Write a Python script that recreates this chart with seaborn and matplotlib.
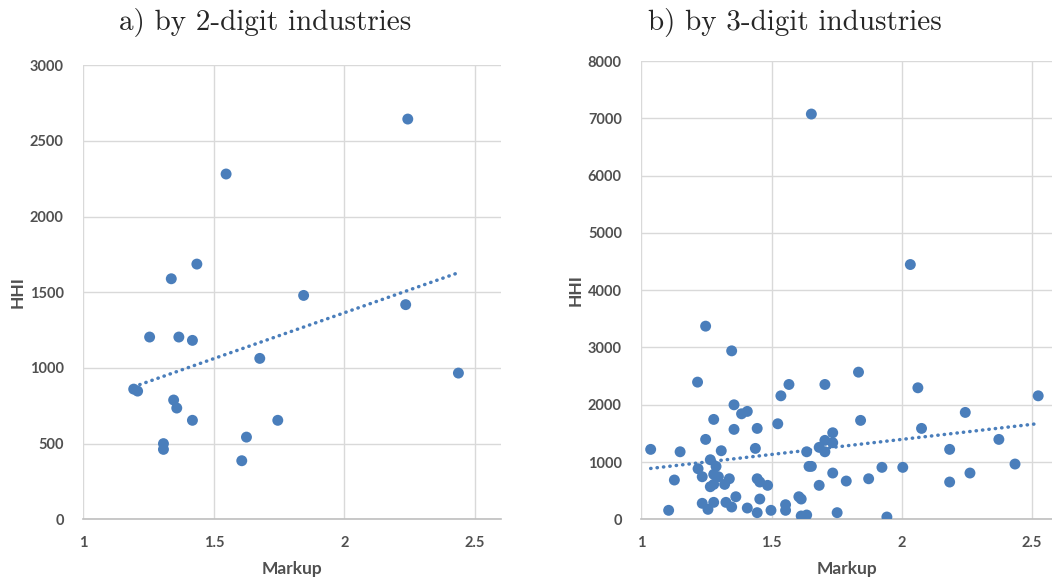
import matplotlib
matplotlib.use("Agg")
import matplotlib.pyplot as plt
import numpy as np
import pandas as pd
import seaborn as sns

# Panel a) 2-digit industries
markup_2d = [2.243, 1.547, 1.435, 1.337, 1.844, 2.235, 1.254, 1.366, 1.418, 1.676,
             2.437, 1.193, 1.208, 1.346, 1.358, 1.418, 1.745, 1.625, 1.307, 1.307,
             1.607]
hhi_2d = [2644, 2281, 1686, 1589, 1479, 1418, 1204, 1204, 1182, 1063,
          966, 860, 847, 788, 735, 654, 654, 543, 500, 462,
          387]

# Panel b) 3-digit industries
markup_3d = [1.653, 1.247, 1.347, 1.216, 1.567, 1.705, 1.536, 1.356, 1.385, 1.407,
             1.278, 1.524, 1.445, 1.356, 1.735, 1.705, 1.735, 1.683, 1.705, 1.036,
             1.149, 1.247, 1.307, 1.438, 1.635, 1.265, 1.287, 1.218, 1.644, 1.653,
             1.234, 1.278, 1.296, 1.265, 1.278, 1.320, 1.338, 1.127, 1.445, 1.455,
             1.485, 1.735, 1.683, 1.363, 1.605, 1.614, 1.234, 1.278, 1.256, 1.325,
             1.347, 1.407, 1.455, 1.445, 1.498, 1.554, 1.554, 1.105, 1.614, 1.635,
             1.752, 1.834, 1.842, 1.787, 1.873, 1.924, 1.943, 2.004, 2.033, 2.062,
             2.076, 2.184, 2.184, 2.244, 2.262, 2.373, 2.435, 2.524]
hhi_3d = [7075, 3372, 2941, 2395, 2354, 2354, 2156, 1999, 1842, 1884,
          1744, 1668, 1587, 1570, 1511, 1378, 1337, 1256, 1179, 1221,
          1179, 1395, 1197, 1238, 1179, 1040, 924, 883, 924, 924,
          743, 785, 743, 569, 610, 610, 708, 686, 708, 651,
          593, 808, 593, 394, 394, 354, 279, 296, 174, 296,
          215, 197, 354, 116, 157, 255, 157, 157, 58, 75,
          116, 2569, 1727, 668, 708, 907, 40, 907, 4448, 2296,
          1587, 1221, 651, 1866, 808, 1395, 965, 2156]

titles = ["a) by 2-digit industries", "b) by 3-digit industries"]
x_ticks = [1, 1.5, 2, 2.5]
x_tick_labels = ["1", "1.5", "2", "2.5"]
y_ticks_2d = [0, 500, 1000, 1500, 2000, 2500, 3000]
y_ticks_3d = [0, 1000, 2000, 3000, 4000, 5000, 6000, 7000, 8000]

point_color = "#4A7EBB"
text_color = "#505050"
grid_color = "#D9D9D9"

sns.set_theme(style="whitegrid")
plt.rcParams["font.family"] = ["Lato", "DejaVu Sans"]

fig = plt.figure(figsize=(10.52, 5.86), dpi=100)
ax_a = fig.add_axes([0.0792, 0.1138, 0.397, 0.775])
ax_b = fig.add_axes([0.6096, 0.1138, 0.3904, 0.782])

panels = [
    (ax_a, markup_2d, hhi_2d, y_ticks_2d, (1, 2.6), (0, 3000), 0.2519),
    (ax_b, markup_3d, hhi_3d, y_ticks_3d, (1, 2.577), (0, 8000), 0.7559),
]

for (ax, xs, ys, yt, xl, yl, title_x), title in zip(panels, titles):
    df = pd.DataFrame({"Markup": xs, "HHI": ys})
    # dotted linear trend line
    sns.regplot(data=df, x="Markup", y="HHI", ax=ax, scatter=False, ci=None,
                truncate=True,
                line_kws=dict(color=point_color, lw=2.5, ls=(0, (0.1, 1.75)),
                              dash_capstyle="round"))
    sns.scatterplot(data=df, x="Markup", y="HHI", ax=ax, color=point_color,
                    s=62, edgecolor="none", zorder=3)
    ax.set_xlim(*xl)
    ax.set_ylim(*yl)
    ax.set_xticks(x_ticks)
    ax.set_xticklabels(x_tick_labels)
    ax.set_yticks(yt)
    ax.grid(True, color=grid_color, lw=1.0)
    for side in ["left", "top", "right"]:
        ax.spines[side].set_visible(False)
    ax.spines["bottom"].set_color("#BFBFBF")
    ax.spines["bottom"].set_linewidth(1.2)
    ax.tick_params(axis="both", length=0, labelsize=10.5, labelcolor=text_color)
    ax.tick_params(axis="x", pad=12)
    ax.tick_params(axis="y", pad=14)
    for lab in ax.get_xticklabels() + ax.get_yticklabels():
        lab.set_fontweight("bold")
    ax.set_xlabel("Markup", fontsize=12.5, fontweight="bold", color=text_color, labelpad=8)
    ax.set_ylabel("HHI", fontsize=12.5, fontweight="bold", color=text_color, labelpad=3)
    ax.set_facecolor("white")
    fig.text(title_x, 0.962, title, ha="center", va="center", fontsize=21,
             family=["cmr10", "DejaVu Serif"])

fig.savefig("out.png", dpi=100, facecolor="white")
